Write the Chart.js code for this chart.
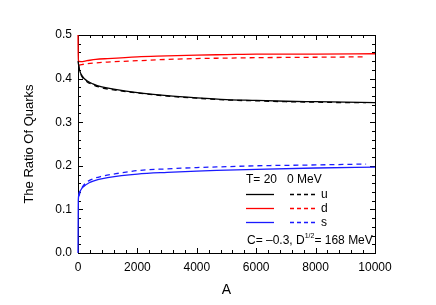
<!DOCTYPE html>
<html>
<head>
<meta charset="utf-8">
<script src="https://cdn.jsdelivr.net/npm/chart.js@4.4.1/dist/chart.umd.min.js"></script>
<style>
  html, body { margin: 0; padding: 0; background: #fff; }
</style>
</head>
<body>
<canvas id="mycanvas" width="436" height="305"></canvas>
<script>
// values (A, ratio)
var uSolidA = [0, 50, 150, 300, 500, 800, 1200, 2000, 3000, 4000, 5000, 6000, 7000, 8000, 9000, 10000];
var uSolidV = [0.440, 0.420, 0.405, 0.395, 0.388, 0.381, 0.376, 0.368, 0.361, 0.356, 0.352, 0.350, 0.348, 0.347, 0.346, 0.345];
var uDashA = [20, 50, 150, 300, 500, 800, 1200, 2000, 3000, 4000, 5000, 6000, 7000, 8000, 9000, 9700];
var uDashV = [0.430, 0.418, 0.403, 0.393, 0.386, 0.379, 0.374, 0.367, 0.360, 0.355, 0.351, 0.349, 0.347, 0.346, 0.345, 0.345];

var dSolidA = [0, 10, 100, 300, 600, 1000, 2000, 3000, 4000, 5000, 6000, 8000, 10000];
var dSolidV = [0.500, 0.440, 0.439, 0.441, 0.444, 0.446, 0.450, 0.452, 0.454, 0.455, 0.456, 0.456, 0.457];
var dDashA = [30, 300, 600, 1000, 2000, 3000, 4000, 5000, 6000, 8000, 9700];
var dDashV = [0.431, 0.434, 0.436, 0.438, 0.441, 0.444, 0.446, 0.447, 0.448, 0.449, 0.450];

var sSolidA = [0, 10, 50, 150, 400, 700, 1000, 2000, 3000, 4000, 5000, 6000, 8000, 10000];
var sSolidV = [0.000, 0.120, 0.140, 0.150, 0.162, 0.169, 0.173, 0.181, 0.185, 0.188, 0.190, 0.192, 0.195, 0.197];
var sDashA = [30, 100, 250, 400, 800, 1200, 2000, 3000, 4000, 5000, 6000, 8000, 9700];
var sDashV = [0.130, 0.145, 0.160, 0.167, 0.176, 0.181, 0.189, 0.193, 0.196, 0.198, 0.200, 0.202, 0.204];

var xTicks = [0, 2000, 4000, 6000, 8000, 10000];
var yTicks = [0.0, 0.1, 0.2, 0.3, 0.4, 0.5];

function pts(a, v) {
	var out = [];
	for (var i in a) out.push({x: a[i], y: v[i]});
	return out;
}

function line(label, a, v, color, dashed) {
	return {
		label: label,
		data: pts(a, v),
		borderColor: color,
		borderWidth: 1.3,
		borderDash: dashed ? [5, 4] : [],
		pointRadius: 0,
		fill: false,
		clip: 3,
		cubicInterpolationMode: 'monotone'
	};
}

var FONT = '"Liberation Sans", Arial, sans-serif';

// frame + inward ticks on all 4 sides, drawn under the curves
var framePlugin = {
	id: 'frame',
	beforeDatasetsDraw: function(chart) {
		var ctx = chart.ctx;
		var ca = chart.chartArea;
		var xs = chart.scales.x, ys = chart.scales.y;
		ctx.save();
		ctx.strokeStyle = '#000';
		ctx.lineWidth = 1;
		ctx.strokeRect(ca.left + 0.5, ca.top + 0.5, ca.right - ca.left, ca.bottom - ca.top);

		ctx.beginPath();
		for (var a = 0; a <= 10000; a += 400) {
			var px = Math.round(xs.getPixelForValue(a)) + 0.5;
			var len = (a % 2000 === 0) ? 5 : 3;
			ctx.moveTo(px, ca.bottom); ctx.lineTo(px, ca.bottom - len);
			ctx.moveTo(px, ca.top); ctx.lineTo(px, ca.top + len);
		}
		for (var k = 0; k <= 25; k++) {
			var py = Math.round(ys.getPixelForValue(k * 0.02)) + 0.5;
			var l2 = (k % 5 === 0) ? 5 : 3;
			ctx.moveTo(ca.left, py); ctx.lineTo(ca.left + l2, py);
			ctx.moveTo(ca.right, py); ctx.lineTo(ca.right - l2, py);
		}
		ctx.stroke();
		ctx.restore();
	},
	// legend text inside the plot
	afterDraw: function(chart) {
		var ctx = chart.ctx;
		ctx.save();
		ctx.fillStyle = '#000';
		ctx.font = '12px ' + FONT;
		ctx.textBaseline = 'middle';
		ctx.textAlign = 'left';
		ctx.fillText('T= 20   0 MeV', 246, 180);

		var rows = [['u', '#000000', 194], ['d', '#ff0000', 208], ['s', '#1a1aff', 222]];
		for (var r in rows) {
			var y = rows[r][2] + 0.5;
			ctx.strokeStyle = rows[r][1];
			ctx.lineWidth = 1.3;
			ctx.setLineDash([]);
			ctx.beginPath(); ctx.moveTo(246, y); ctx.lineTo(274, y); ctx.stroke();
			ctx.setLineDash([4, 3]);
			ctx.beginPath(); ctx.moveTo(290, y); ctx.lineTo(318, y); ctx.stroke();
			ctx.setLineDash([]);
			ctx.fillStyle = '#000';
			ctx.fillText(rows[r][0], 321, rows[r][2] + 1);
		}

		var t1 = 'C= \u20130.3, D';
		ctx.fillText(t1, 247, 241);
		var w = ctx.measureText(t1).width;
		ctx.font = '7px ' + FONT;
		ctx.fillText('1/2', 247 + w, 236);
		var w2 = ctx.measureText('1/2').width;
		ctx.font = '12px ' + FONT;
		ctx.fillText('= 168 MeV', 247 + w + w2, 241);
		ctx.restore();
	}
};

var chartdata = {
	datasets: [
		line('u', uSolidA, uSolidV, '#000000', false),
		line('u dashed', uDashA, uDashV, '#000000', true),
		line('d', dSolidA, dSolidV, '#ff0000', false),
		line('d dashed', dDashA, dDashV, '#ff0000', true),
		line('s', sSolidA, sSolidV, '#1a1aff', false),
		line('s dashed', sDashA, sDashV, '#1a1aff', true)
	]
};

var ctx = document.getElementById('mycanvas');

var graph = new Chart(ctx, {
	type: 'line',
	data: chartdata,
	options: {
		responsive: false,
		animation: false,
		layout: { padding: { top: 35, right: 61, left: 0, bottom: 0 } },
		plugins: { legend: { display: false }, tooltip: { enabled: false } },
		scales: {
			x: {
				type: 'linear',
				min: 0, max: 10000,
				afterBuildTicks: function(s) { s.ticks = xTicks.map(function(v) { return {value: v}; }); },
				afterFit: function(s) { s.height = 52; },
				grid: { display: false, drawTicks: false },
				border: { display: false },
				ticks: { color: '#000', padding: 7, maxRotation: 0, font: { family: FONT, size: 12 },
					callback: function(v) { return String(v); } },
				title: { display: true, text: 'A', color: '#000', font: { family: FONT, size: 14 },
					padding: { top: 0, bottom: 6 } }
			},
			y: {
				min: 0, max: 0.5,
				afterBuildTicks: function(s) { s.ticks = yTicks.map(function(v) { return {value: v}; }); },
				afterFit: function(s) { s.width = 78; },
				grid: { display: false, drawTicks: false },
				border: { display: false },
				ticks: { color: '#000', padding: 6, font: { family: FONT, size: 12 },
					callback: function(v) { return Number(v).toFixed(1); } },
				title: { display: true, text: 'The Ratio Of Quarks', color: '#000', font: { family: FONT, size: 13 },
					padding: { top: 22, bottom: 0 } }
			}
		}
	},
	plugins: [framePlugin]
});
</script>
</body>
</html>
